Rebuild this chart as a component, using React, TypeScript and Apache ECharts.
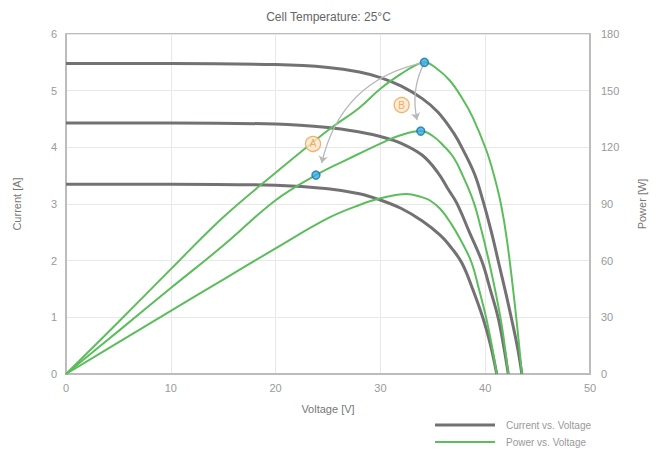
import React, { useEffect, useRef } from 'react';
import * as echarts from 'echarts';

const titleText = 'Cell Temperature: 25°C';
const xName = 'Voltage [V]';
const yLeftName = 'Current [A]';
const yRightName = 'Power [W]';
const legendNames = ['Current vs. Voltage', 'Power vs. Voltage'];

// Current vs. Voltage (three irradiance levels)
const vTopIV = [0, 10, 20, 25, 28, 30, 32, 34, 35.5, 37, 37.9, 39, 39.8, 40.6, 41.3, 42, 42.6, 43.1, 43.5];
const iTop = [5.48, 5.48, 5.46, 5.41, 5.33, 5.23, 5.08, 4.86, 4.62, 4.25, 3.95, 3.52, 3.05, 2.5, 1.95, 1.4, 0.9, 0.45, 0];
const vMidIV = [0, 10, 20, 25, 28, 30, 32, 34, 35.5, 36.5, 37.3, 38.5, 39.7, 40.5, 41.25, 41.8, 42.2];
const iMid = [4.43, 4.43, 4.41, 4.35, 4.27, 4.19, 4.07, 3.86, 3.55, 3.25, 3.01, 2.5, 1.98, 1.48, 0.98, 0.45, 0];
const vLowIV = [0, 10, 20, 25, 28, 30, 32, 34, 35.7, 36.8, 37.8, 38.8, 39.8, 40.5, 41.1];
const iLow = [3.35, 3.35, 3.33, 3.27, 3.18, 3.07, 2.92, 2.7, 2.45, 2.22, 1.95, 1.5, 0.98, 0.52, 0];

// Power vs. Voltage
const vTopP = [0, 5, 10, 15, 20, 25, 28, 30, 32, 33.2, 34.2, 35.3, 36.6, 37.8, 38.8, 40.1, 40.8, 41.5, 42.1, 42.9, 43.5];
const pTop = [0, 27.5, 55.5, 83, 106.5, 129, 141, 151, 159, 163, 165, 162, 155.5, 146, 136, 118.6, 106, 90, 70, 33, 0];
const vMidP = [0, 5, 10, 15, 20, 23.85, 27, 30, 32, 33.85, 35, 36, 37, 37.9, 38.9, 39.6, 40.3, 41, 41.6, 42.2];
const pMid = [0, 22.7, 45.5, 68, 92, 105.3, 114, 122, 126.5, 128.6, 126, 121, 114.5, 104.5, 91, 77, 61, 43, 25, 0];
const vLowP = [0, 5, 10, 15, 20, 25, 28, 30, 32.5, 34, 34.7, 35.7, 36.7, 37.7, 38.7, 39.4, 40.1, 40.6, 41.1];
const pLow = [0, 16.7, 33.4, 50, 66.5, 82.5, 89.5, 93, 95.3, 93.5, 92, 87.5, 80, 70.5, 59, 45, 29.5, 16, 0];

// Annotations (on the power axis)
const markerPoints = [[34.2, 165], [33.85, 128.6], [23.85, 105.3]];
const arrowA = [[34.2, 165], [24.4, 111.7]];
const arrowB = [[34.2, 165], [33.5, 134.5]];
const labelNames = ['A', 'B'];
const labelPoints = [[23.57, 121.8], [32.03, 142.4]];

const GRAY = '#747174';
const GREEN = '#5cbd5c';
const LABEL = '#999999';
const FONT = 'Liberation Sans, Arial, sans-serif';

function zip(xs: number[], ys: number[]) {
  return xs.map((x, i) => [x, ys[i]]);
}

export default function App() {
  const ref = useRef<HTMLDivElement>(null);

  useEffect(() => {
    if (!ref.current) return;
    const chart = echarts.init(ref.current, null, { renderer: 'svg' });

    const ivSeries = [
      zip(vTopIV, iTop),
      zip(vMidIV, iMid),
      zip(vLowIV, iLow),
    ].map((d) => ({
      type: 'line',
      name: legendNames[0],
      data: d,
      yAxisIndex: 0,
      smooth: 0.4,
      symbol: 'none',
      itemStyle: { color: GRAY },
      lineStyle: { color: GRAY, width: 3 },
      z: 2,
    }));

    const pSeries = [
      zip(vTopP, pTop),
      zip(vMidP, pMid),
      zip(vLowP, pLow),
    ].map((d) => ({
      type: 'line',
      name: legendNames[1],
      data: d,
      yAxisIndex: 1,
      smooth: 0.4,
      symbol: 'none',
      itemStyle: { color: GREEN },
      lineStyle: { color: GREEN, width: 2 },
      z: 3,
    }));

    const legendText = {
      fontSize: 10,
      color: LABEL,
      lineHeight: 12,
      padding: [0, 0, 0, 6],
      fontFamily: FONT,
    };

    const axisLabel = (margin: number) => ({
      show: true,
      fontSize: 11,
      color: LABEL,
      margin,
      fontFamily: FONT,
      formatter: '{t|{value}}',
      rich: { t: { color: LABEL, fontSize: 11, fontFamily: FONT } },
    });

    const option: any = {
      animation: false,
      textStyle: { fontFamily: FONT, color: LABEL },
      title: {
        text: titleText,
        left: 'center',
        top: 6,
        textStyle: { fontSize: 12, fontWeight: 'normal', color: '#666', fontFamily: FONT },
      },
      legend: [
        {
          data: [{ name: legendNames[0], itemStyle: { color: GRAY } }],
          left: 430,
          top: 414,
          icon: 'rect',
          itemWidth: 60,
          itemHeight: 3,
          textStyle: legendText,
        },
        {
          data: [{ name: legendNames[1], itemStyle: { color: GREEN } }],
          left: 430,
          top: 431,
          icon: 'rect',
          itemWidth: 60,
          itemHeight: 2,
          textStyle: legendText,
        },
      ],
      grid: {
        left: 66,
        right: 67,
        top: 34,
        bottom: 79,
        show: true,
        borderColor: '#bcbcbc',
        borderWidth: 2,
      },
      xAxis: {
        type: 'value',
        min: 0,
        max: 50,
        interval: 10,
        name: xName,
        nameLocation: 'middle',
        nameGap: 29,
        nameTextStyle: { fontSize: 11, color: '#777', fontFamily: FONT },
        axisLine: { show: true, lineStyle: { color: '#bcbcbc', width: 2 } },
        axisTick: { show: false },
        axisLabel: axisLabel(8),
        splitLine: { show: true, lineStyle: { color: '#e8e8e8', width: 1 } },
      },
      yAxis: [
        {
          type: 'value',
          min: 0,
          max: 6,
          interval: 1,
          name: yLeftName,
          nameLocation: 'middle',
          nameGap: 44,
          nameRotate: 90,
          nameTextStyle: { fontSize: 11, color: '#777', fontFamily: FONT },
          axisLine: { show: true, lineStyle: { color: '#bcbcbc', width: 2 } },
          axisTick: { show: false },
          axisLabel: axisLabel(9),
          splitLine: { show: true, lineStyle: { color: '#e8e8e8', width: 1 } },
        },
        {
          type: 'value',
          min: 0,
          max: 180,
          interval: 30,
          position: 'right',
          name: yRightName,
          nameLocation: 'middle',
          nameGap: 46,
          nameRotate: 90,
          nameTextStyle: { fontSize: 11, color: '#777', fontFamily: FONT },
          axisLine: { show: true, lineStyle: { color: '#bcbcbc', width: 2 } },
          axisTick: { show: false },
          axisLabel: axisLabel(11),
          splitLine: { show: false },
        },
      ],
      series: [
        ...ivSeries,
        ...pSeries,
        {
          type: 'lines',
          coordinateSystem: 'cartesian2d',
          xAxisIndex: 0,
          yAxisIndex: 1,
          symbol: ['none', 'arrow'],
          symbolSize: 7,
          lineStyle: { color: '#b8b8b8', width: 1.3, curveness: -0.32, opacity: 1 },
          data: [{ coords: arrowA }],
          z: 4,
        },
        {
          type: 'lines',
          coordinateSystem: 'cartesian2d',
          xAxisIndex: 0,
          yAxisIndex: 1,
          symbol: ['none', 'arrow'],
          symbolSize: 7,
          lineStyle: { color: '#b8b8b8', width: 1.3, curveness: -0.18, opacity: 1 },
          data: [{ coords: arrowB }],
          z: 4,
        },
        {
          type: 'scatter',
          yAxisIndex: 1,
          symbol: 'circle',
          symbolSize: 8,
          itemStyle: { color: '#38aee3', borderColor: '#1b74ad', borderWidth: 1.5 },
          data: markerPoints,
          z: 6,
        },
        {
          type: 'scatter',
          yAxisIndex: 1,
          symbol: 'circle',
          symbolSize: 15,
          itemStyle: { color: '#fde6cc', borderColor: '#f0a050', borderWidth: 1.3 },
          label: {
            show: true,
            position: 'inside',
            formatter: '{b}',
            color: '#ee9a45',
            fontSize: 10,
            fontFamily: FONT,
          },
          data: labelPoints.map((p, i) => ({ name: labelNames[i], value: p })),
          z: 6,
        },
      ],
    };

    chart.setOption(option);
    return () => chart.dispose();
  }, []);

  return (
    <div
      ref={ref}
      style={{ position: 'absolute', left: 0, top: 0, width: 657, height: 453, background: '#fff' }}
    />
  );
}
